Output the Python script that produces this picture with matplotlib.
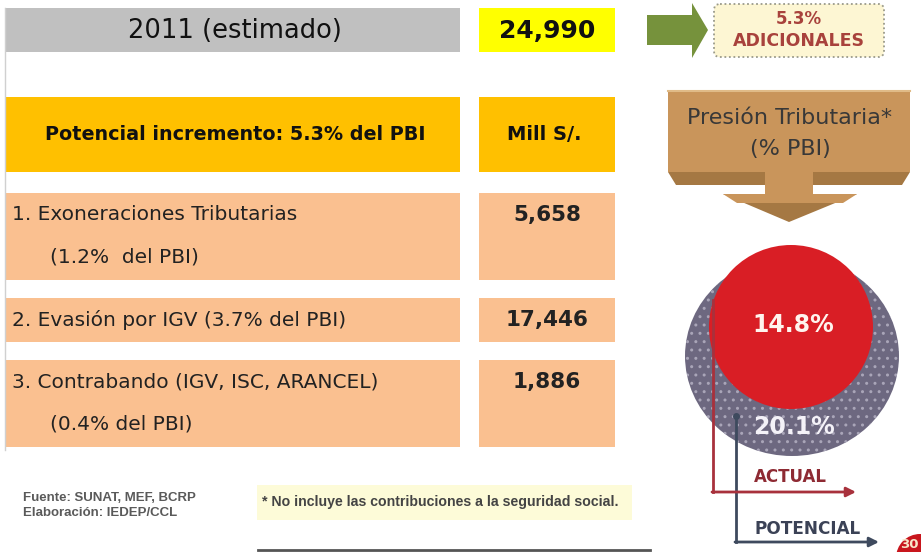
import matplotlib.pyplot as plt
from matplotlib.patches import Rectangle, Polygon, Circle, Ellipse, FancyBboxPatch

# data
year_label = "2011 (estimado)"
total = 24990
header_label = "Potencial incremento: 5.3% del PBI"
unit_label = "Mill S/."
items = ["1. Exoneraciones Tributarias",
         "2. Evasión por IGV (3.7% del PBI)",
         "3. Contrabando (IGV, ISC, ARANCEL)"]
item_notes = ["(1.2%  del PBI)", "", "(0.4% del PBI)"]
amounts = [5658, 17446, 1886]
extra_pct = 5.3
presion_actual = 14.8
presion_potencial = 20.1

# row layout (pixel space, top-down)
row_top = [193, 298, 360]
row_bot = [280, 342, 447]

fig = plt.figure(figsize=(9.21, 5.52), dpi=100)
ax = fig.add_axes([0, 0, 1, 1])
ax.set_xlim(0, 921)
ax.set_ylim(552, 0)
ax.axis('off')

font = 'DejaVu Sans'
peach = '#fac090'
gold = '#ffc000'

# left table
ax.plot([5, 5], [8, 450], color='#d0d0d0', lw=1)
ax.add_patch(Rectangle((5, 8), 455, 44, color='#c0c0c0', lw=0))
ax.add_patch(Rectangle((479, 8), 136, 44, color='#ffff00', lw=0))
ax.text(235, 31, year_label, ha='center', va='center', fontsize=18.5, family=font, color='#111')
ax.text(547, 31, f"{total:,}", ha='center', va='center', fontsize=18, family=font,
        fontweight='bold', color='#111')

ax.add_patch(Rectangle((5, 97), 455, 75, color=gold, lw=0))
ax.add_patch(Rectangle((479, 97), 136, 75, color=gold, lw=0))
ax.text(235, 134, header_label, ha='center', va='center', fontsize=13.8, family=font,
        fontweight='bold', color='#111')
ax.text(544, 134, unit_label, ha='center', va='center', fontsize=14, family=font,
        fontweight='bold', color='#111')

for i in range(len(items)):
    top, bot = row_top[i], row_bot[i]
    ax.add_patch(Rectangle((5, top), 455, bot - top, color=peach, lw=0))
    ax.add_patch(Rectangle((479, top), 136, bot - top, color=peach, lw=0))
    ty = top + 22
    ax.text(12, ty, items[i], ha='left', va='center', fontsize=14.5, family=font, color='#222')
    if item_notes[i]:
        ax.text(50, top + 64, item_notes[i], ha='left', va='center', fontsize=14.5,
                family=font, color='#222')
    ax.text(547, ty, f"{amounts[i]:,}", ha='center', va='center', fontsize=15.5,
            family=font, fontweight='bold', color='#222')

# green arrow + dotted note
ax.add_patch(Polygon([(647, 15), (692, 15), (692, 3), (708, 30), (692, 58),
                      (692, 45), (647, 45)], closed=True, color='#76923c', lw=0))
ax.add_patch(FancyBboxPatch((714, 4), 170, 53, boxstyle='round,pad=0,rounding_size=6',
                            fc='#fdf6d3', ec='#9a9a8a', lw=1.3, ls=(0, (1, 1.5))))
ax.text(799, 19, f"{extra_pct}%", ha='center', va='center', fontsize=12, family=font,
        fontweight='bold', color='#a8423c')
ax.text(799, 41, "ADICIONALES", ha='center', va='center', fontsize=12.5, family=font,
        fontweight='bold', color='#a8423c')

# tan box with down arrow
tan = '#c9955b'
tan_dark = '#a57843'
ax.add_patch(Rectangle((668, 90), 242, 82, color=tan, lw=0))
ax.plot([668, 910], [91, 91], color='#e0bb88', lw=1.5)
ax.add_patch(Polygon([(668, 172), (910, 172), (902, 185), (676, 185)], closed=True,
                     color=tan_dark, lw=0))
ax.add_patch(Rectangle((765, 172), 48, 24, color=tan, lw=0))
ax.add_patch(Polygon([(723, 194), (857, 194), (789, 222)], closed=True, color=tan_dark, lw=0))
ax.add_patch(Polygon([(723, 194), (857, 194), (843, 203), (737, 203)], closed=True,
                     color=tan, lw=0))
ax.text(790, 118, "Presión Tributaria*", ha='center', va='center', fontsize=16,
        family=font, color='#383838')
ax.text(790, 149, "(% PBI)", ha='center', va='center', fontsize=16, family=font,
        color='#383838')

# circles
ax.add_patch(Ellipse((792, 356), 214, 200, fc='#6d6880', ec='#a9a5b8', hatch='..', lw=0))
ax.add_patch(Circle((791, 327), 82, color='#d91e25', lw=0))
ax.text(793, 325, f"{presion_actual}%", ha='center', va='center', fontsize=17,
        family=font, fontweight='bold', color='#fff4ee')
ax.text(794, 427, f"{presion_potencial}%", ha='center', va='center', fontsize=17,
        family=font, fontweight='bold', color='#f4f2f8')

# legend lines
red_line = '#a8313c'
blue_line = '#3e4a5e'
ax.plot([713, 713], [300, 492], color=red_line, lw=2)
ax.annotate('', xy=(856, 492), xytext=(712, 492),
            arrowprops=dict(arrowstyle='-|>', color=red_line, lw=2, mutation_scale=14,
                            shrinkA=0, shrinkB=0))
ax.plot([736, 736], [416, 542], color=blue_line, lw=2)
ax.plot(736, 416, 'o', color=blue_line, ms=4)
ax.annotate('', xy=(879, 542), xytext=(735, 542),
            arrowprops=dict(arrowstyle='-|>', color=blue_line, lw=2, mutation_scale=14,
                            shrinkA=0, shrinkB=0))
ax.text(790, 477, "ACTUAL", ha='center', va='center', fontsize=12, family=font,
        fontweight='bold', color='#8e2a33')
ax.text(808, 529, "POTENCIAL", ha='center', va='center', fontsize=12.2, family=font,
        fontweight='bold', color='#3b4256')

# page number badge
ax.add_patch(Circle((920, 558), 24, color='#c8161d', lw=0))
ax.text(900, 545, "30", ha='left', va='center', fontsize=9.5, family=font,
        fontweight='bold', color='#f7e6c8')

# footer
ax.text(23, 498, "Fuente: SUNAT, MEF, BCRP", ha='left', va='center', fontsize=9.5,
        family='Liberation Sans', fontweight='bold', color='#5a5a5a')
ax.text(23, 513, "Elaboración: IEDEP/CCL", ha='left', va='center', fontsize=9.5,
        family='Liberation Sans', fontweight='bold', color='#5a5a5a')
ax.add_patch(Rectangle((257, 485), 375, 35, color='#fdfbd8', lw=0))
ax.text(262, 502, "* No incluye las contribuciones a la seguridad social.", ha='left',
        va='center', fontsize=10.2, family='Liberation Sans', fontweight='bold', color='#444')
ax.plot([258, 650], [550, 550], color='#555', lw=2)

fig.savefig('out.png', dpi=100)
